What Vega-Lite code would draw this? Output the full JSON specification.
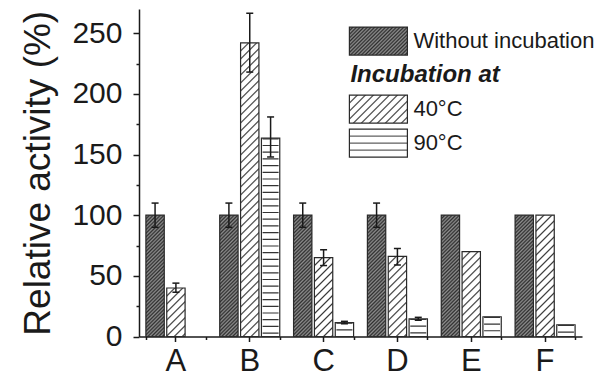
{
  "$schema": "https://vega.github.io/schema/vega-lite/v6.json",
  "width": 443,
  "height": 327.5,
  "autosize": {"type": "none"},
  "padding": {"left": 139, "top": 9, "right": 15, "bottom": 40.5},
  "background": "white",
  "config": {
    "view": {"stroke": null},
    "font": "Liberation Sans",
    "axis": {"grid": false, "domainColor": "#1a1a1a", "tickColor": "#1a1a1a", "labelColor": "#1a1a1a", "titleColor": "#1a1a1a", "domainWidth": 1.5, "tickWidth": 1.5, "labelFont": "Liberation Sans", "titleFont": "Liberation Sans"}
  },
  "params": [
    {"name": "thin", "value": [
      {"offset": 0.02, "color": "#fff"}, {"offset": 0.025, "color": "#333"}, {"offset": 0.03, "color": "#fff"},
      {"offset": 0.045, "color": "#fff"}, {"offset": 0.05, "color": "#333"}, {"offset": 0.055, "color": "#fff"},
      {"offset": 0.07, "color": "#fff"}, {"offset": 0.075, "color": "#333"}, {"offset": 0.08, "color": "#fff"},
      {"offset": 0.095, "color": "#fff"}, {"offset": 0.1, "color": "#333"}, {"offset": 0.105, "color": "#fff"},
      {"offset": 0.12, "color": "#fff"}, {"offset": 0.125, "color": "#333"}, {"offset": 0.13, "color": "#fff"},
      {"offset": 0.145, "color": "#fff"}, {"offset": 0.15, "color": "#333"}, {"offset": 0.155, "color": "#fff"},
      {"offset": 0.17, "color": "#fff"}, {"offset": 0.175, "color": "#333"}, {"offset": 0.18, "color": "#fff"},
      {"offset": 0.195, "color": "#fff"}, {"offset": 0.2, "color": "#333"}, {"offset": 0.205, "color": "#fff"},
      {"offset": 0.22, "color": "#fff"}, {"offset": 0.225, "color": "#333"}, {"offset": 0.23, "color": "#fff"},
      {"offset": 0.245, "color": "#fff"}, {"offset": 0.25, "color": "#333"}, {"offset": 0.255, "color": "#fff"},
      {"offset": 0.27, "color": "#fff"}, {"offset": 0.275, "color": "#333"}, {"offset": 0.28, "color": "#fff"},
      {"offset": 0.295, "color": "#fff"}, {"offset": 0.3, "color": "#333"}, {"offset": 0.305, "color": "#fff"},
      {"offset": 0.32, "color": "#fff"}, {"offset": 0.325, "color": "#333"}, {"offset": 0.33, "color": "#fff"},
      {"offset": 0.345, "color": "#fff"}, {"offset": 0.35, "color": "#333"}, {"offset": 0.355, "color": "#fff"},
      {"offset": 0.37, "color": "#fff"}, {"offset": 0.375, "color": "#333"}, {"offset": 0.38, "color": "#fff"},
      {"offset": 0.395, "color": "#fff"}, {"offset": 0.4, "color": "#333"}, {"offset": 0.405, "color": "#fff"},
      {"offset": 0.42, "color": "#fff"}, {"offset": 0.425, "color": "#333"}, {"offset": 0.43, "color": "#fff"},
      {"offset": 0.445, "color": "#fff"}, {"offset": 0.45, "color": "#333"}, {"offset": 0.455, "color": "#fff"},
      {"offset": 0.47, "color": "#fff"}, {"offset": 0.475, "color": "#333"}, {"offset": 0.48, "color": "#fff"},
      {"offset": 0.495, "color": "#fff"}, {"offset": 0.5, "color": "#333"}, {"offset": 0.505, "color": "#fff"},
      {"offset": 0.52, "color": "#fff"}, {"offset": 0.525, "color": "#333"}, {"offset": 0.53, "color": "#fff"},
      {"offset": 0.545, "color": "#fff"}, {"offset": 0.55, "color": "#333"}, {"offset": 0.555, "color": "#fff"},
      {"offset": 0.57, "color": "#fff"}, {"offset": 0.575, "color": "#333"}, {"offset": 0.58, "color": "#fff"},
      {"offset": 0.595, "color": "#fff"}, {"offset": 0.6, "color": "#333"}, {"offset": 0.605, "color": "#fff"},
      {"offset": 0.62, "color": "#fff"}, {"offset": 0.625, "color": "#333"}, {"offset": 0.63, "color": "#fff"},
      {"offset": 0.645, "color": "#fff"}, {"offset": 0.65, "color": "#333"}, {"offset": 0.655, "color": "#fff"},
      {"offset": 0.67, "color": "#fff"}, {"offset": 0.675, "color": "#333"}, {"offset": 0.68, "color": "#fff"},
      {"offset": 0.695, "color": "#fff"}, {"offset": 0.7, "color": "#333"}, {"offset": 0.705, "color": "#fff"},
      {"offset": 0.72, "color": "#fff"}, {"offset": 0.725, "color": "#333"}, {"offset": 0.73, "color": "#fff"},
      {"offset": 0.745, "color": "#fff"}, {"offset": 0.75, "color": "#333"}, {"offset": 0.755, "color": "#fff"},
      {"offset": 0.77, "color": "#fff"}, {"offset": 0.775, "color": "#333"}, {"offset": 0.78, "color": "#fff"},
      {"offset": 0.795, "color": "#fff"}, {"offset": 0.8, "color": "#333"}, {"offset": 0.805, "color": "#fff"},
      {"offset": 0.82, "color": "#fff"}, {"offset": 0.825, "color": "#333"}, {"offset": 0.83, "color": "#fff"},
      {"offset": 0.845, "color": "#fff"}, {"offset": 0.85, "color": "#333"}, {"offset": 0.855, "color": "#fff"},
      {"offset": 0.87, "color": "#fff"}, {"offset": 0.875, "color": "#333"}, {"offset": 0.88, "color": "#fff"},
      {"offset": 0.895, "color": "#fff"}, {"offset": 0.9, "color": "#333"}, {"offset": 0.905, "color": "#fff"},
      {"offset": 0.92, "color": "#fff"}, {"offset": 0.925, "color": "#333"}, {"offset": 0.93, "color": "#fff"},
      {"offset": 0.945, "color": "#fff"}, {"offset": 0.95, "color": "#333"}, {"offset": 0.955, "color": "#fff"},
      {"offset": 0.97, "color": "#fff"}, {"offset": 0.975, "color": "#333"}, {"offset": 0.98, "color": "#fff"},
      {"offset": 0.995, "color": "#fff"}, {"offset": 1, "color": "#333"}
    ]},
    {"name": "dense", "value": [
      {"offset": 0, "color": "#2f2f2f"}, {"offset": 0.0125, "color": "#8e8e8e"},
      {"offset": 0.025, "color": "#2f2f2f"}, {"offset": 0.0375, "color": "#8e8e8e"},
      {"offset": 0.05, "color": "#2f2f2f"}, {"offset": 0.0625, "color": "#8e8e8e"},
      {"offset": 0.075, "color": "#2f2f2f"}, {"offset": 0.0875, "color": "#8e8e8e"},
      {"offset": 0.1, "color": "#2f2f2f"}, {"offset": 0.1125, "color": "#8e8e8e"},
      {"offset": 0.125, "color": "#2f2f2f"}, {"offset": 0.1375, "color": "#8e8e8e"},
      {"offset": 0.15, "color": "#2f2f2f"}, {"offset": 0.1625, "color": "#8e8e8e"},
      {"offset": 0.175, "color": "#2f2f2f"}, {"offset": 0.1875, "color": "#8e8e8e"},
      {"offset": 0.2, "color": "#2f2f2f"}, {"offset": 0.2125, "color": "#8e8e8e"},
      {"offset": 0.225, "color": "#2f2f2f"}, {"offset": 0.2375, "color": "#8e8e8e"},
      {"offset": 0.25, "color": "#2f2f2f"}, {"offset": 0.2625, "color": "#8e8e8e"},
      {"offset": 0.275, "color": "#2f2f2f"}, {"offset": 0.2875, "color": "#8e8e8e"},
      {"offset": 0.3, "color": "#2f2f2f"}, {"offset": 0.3125, "color": "#8e8e8e"},
      {"offset": 0.325, "color": "#2f2f2f"}, {"offset": 0.3375, "color": "#8e8e8e"},
      {"offset": 0.35, "color": "#2f2f2f"}, {"offset": 0.3625, "color": "#8e8e8e"},
      {"offset": 0.375, "color": "#2f2f2f"}, {"offset": 0.3875, "color": "#8e8e8e"},
      {"offset": 0.4, "color": "#2f2f2f"}, {"offset": 0.4125, "color": "#8e8e8e"},
      {"offset": 0.425, "color": "#2f2f2f"}, {"offset": 0.4375, "color": "#8e8e8e"},
      {"offset": 0.45, "color": "#2f2f2f"}, {"offset": 0.4625, "color": "#8e8e8e"},
      {"offset": 0.475, "color": "#2f2f2f"}, {"offset": 0.4875, "color": "#8e8e8e"},
      {"offset": 0.5, "color": "#2f2f2f"}, {"offset": 0.5125, "color": "#8e8e8e"},
      {"offset": 0.525, "color": "#2f2f2f"}, {"offset": 0.5375, "color": "#8e8e8e"},
      {"offset": 0.55, "color": "#2f2f2f"}, {"offset": 0.5625, "color": "#8e8e8e"},
      {"offset": 0.575, "color": "#2f2f2f"}, {"offset": 0.5875, "color": "#8e8e8e"},
      {"offset": 0.6, "color": "#2f2f2f"}, {"offset": 0.6125, "color": "#8e8e8e"},
      {"offset": 0.625, "color": "#2f2f2f"}, {"offset": 0.6375, "color": "#8e8e8e"},
      {"offset": 0.65, "color": "#2f2f2f"}, {"offset": 0.6625, "color": "#8e8e8e"},
      {"offset": 0.675, "color": "#2f2f2f"}, {"offset": 0.6875, "color": "#8e8e8e"},
      {"offset": 0.7, "color": "#2f2f2f"}, {"offset": 0.7125, "color": "#8e8e8e"},
      {"offset": 0.725, "color": "#2f2f2f"}, {"offset": 0.7375, "color": "#8e8e8e"},
      {"offset": 0.75, "color": "#2f2f2f"}, {"offset": 0.7625, "color": "#8e8e8e"},
      {"offset": 0.775, "color": "#2f2f2f"}, {"offset": 0.7875, "color": "#8e8e8e"},
      {"offset": 0.8, "color": "#2f2f2f"}, {"offset": 0.8125, "color": "#8e8e8e"},
      {"offset": 0.825, "color": "#2f2f2f"}, {"offset": 0.8375, "color": "#8e8e8e"},
      {"offset": 0.85, "color": "#2f2f2f"}, {"offset": 0.8625, "color": "#8e8e8e"},
      {"offset": 0.875, "color": "#2f2f2f"}, {"offset": 0.8875, "color": "#8e8e8e"},
      {"offset": 0.9, "color": "#2f2f2f"}, {"offset": 0.9125, "color": "#8e8e8e"},
      {"offset": 0.925, "color": "#2f2f2f"}, {"offset": 0.9375, "color": "#8e8e8e"},
      {"offset": 0.95, "color": "#2f2f2f"}, {"offset": 0.9625, "color": "#8e8e8e"},
      {"offset": 0.975, "color": "#2f2f2f"}, {"offset": 0.9875, "color": "#8e8e8e"},
      {"offset": 1, "color": "#2f2f2f"}
    ]}
  ],
  "data": {"values": [
    {"group": "A", "series": "Without incubation", "value": 100, "lo": 90, "hi": 110},
    {"group": "A", "series": "40°C", "value": 40, "lo": 36.5, "hi": 44},
    {"group": "B", "series": "Without incubation", "value": 100, "lo": 90, "hi": 110},
    {"group": "B", "series": "40°C", "value": 242, "lo": 218, "hi": 266.5},
    {"group": "B", "series": "90°C", "value": 163.5, "lo": 148, "hi": 181},
    {"group": "C", "series": "Without incubation", "value": 100, "lo": 90, "hi": 110},
    {"group": "C", "series": "40°C", "value": 65, "lo": 58.5, "hi": 71.5},
    {"group": "C", "series": "90°C", "value": 11.5, "lo": 10.5, "hi": 12.5},
    {"group": "D", "series": "Without incubation", "value": 100, "lo": 90, "hi": 110},
    {"group": "D", "series": "40°C", "value": 66, "lo": 59, "hi": 72.5},
    {"group": "D", "series": "90°C", "value": 14.5, "lo": 13.4, "hi": 15.8},
    {"group": "E", "series": "Without incubation", "value": 100},
    {"group": "E", "series": "40°C", "value": 70},
    {"group": "E", "series": "90°C", "value": 16.3},
    {"group": "F", "series": "Without incubation", "value": 100},
    {"group": "F", "series": "40°C", "value": 100},
    {"group": "F", "series": "90°C", "value": 9.7}
  ]},
  "resolve": {"axis": {"x": "independent", "y": "independent"}},
  "layer": [
    {
      "mark": {"type": "bar"},
      "encoding": {
        "x": {"field": "group", "type": "nominal", "scale": {"domain": ["A", "B", "C", "D", "E", "F"], "paddingInner": 0.187, "paddingOuter": 0.0935},
          "axis": {"orient": "bottom", "tickBand": "extent", "labels": false, "tickSize": 3, "title": null, "domain": true}},
        "xOffset": {"field": "series", "type": "nominal", "scale": {"domain": ["Without incubation", "40°C", "90°C"], "paddingInner": 0.12, "paddingOuter": 0}},
        "y": {"field": "value", "type": "quantitative", "stack": null, "scale": {"domain": [0, 270], "nice": false, "zero": true},
          "axis": {"orient": "left", "values": [25, 75, 125, 175, 225], "labels": false, "tickSize": 3, "title": null, "domain": true}},
        "fill": {"field": "series", "type": "nominal",
          "scale": {"domain": ["Without incubation", "Incubation at", "40°C", "90°C"],
            "range": [
              {"expr": "{gradient:'linear',x1:0,y1:0,x2:2.0275,y2:0.9788,stops:dense}"},
              "transparent",
              {"expr": "{gradient:'linear',x1:0,y1:0,x2:4.4745,y2:2.16,stops:thin}"},
              {"expr": "{gradient:'linear',x1:0,y1:0,x2:0,y2:1,stops:[{offset:0.215,color:'#fff'},{offset:0.25,color:'#333'},{offset:0.285,color:'#fff'},{offset:0.465,color:'#fff'},{offset:0.5,color:'#333'},{offset:0.535,color:'#fff'},{offset:0.715,color:'#fff'},{offset:0.75,color:'#333'},{offset:0.785,color:'#fff'}]}"}
            ]},
          "legend": {
            "orient": "none", "legendX": 209.4, "legendY": 17.1, "title": null, "padding": 0,
            "symbolType": "M-1,-1H3.1428V1H-1Z", "symbolSize": 784, "symbolStrokeWidth": 1.2, "symbolStrokeColor": "#2a2a2a",
            "labelFontSize": 22, "labelFont": "Liberation Sans", "labelColor": "#1a1a1a", "labelOffset": 35, "rowPadding": 0, "labelLimit": 400,
            "encoding": {
              "symbols": {
                "stroke": {"value": {"expr": "datum.index === 1 ? 'transparent' : '#2a2a2a'"}}
              },
              "labels": {
                "fontWeight": {"value": {"expr": "datum.index === 1 ? 'bold' : 'normal'"}},
                "fontStyle": {"value": {"expr": "datum.index === 1 ? 'italic' : 'normal'"}},
                "fontSize": {"value": {"expr": "datum.index === 1 ? 24 : 22"}},
                "dx": {"value": {"expr": "datum.index === 1 ? -63 : 0"}}
              }
            }
          }
        }
      }
    },
    {
      "mark": {"type": "bar", "stroke": "#2a2a2a", "strokeWidth": 1.2,
        "fill": {"expr": "datum.series === '40°C' ? {gradient:'linear',x1:0,y1:0,x2:320*bandwidth('xOffset')/(pow(bandwidth('xOffset'),2)+pow(scale('y',0)-scale('y',datum.value),2)),y2:320*(scale('y',0)-scale('y',datum.value))/(pow(bandwidth('xOffset'),2)+pow(scale('y',0)-scale('y',datum.value),2)),stops:thin} : datum.series === 'Without incubation' ? {gradient:'linear',x1:0,y1:0,x2:145*bandwidth('xOffset')/(pow(bandwidth('xOffset'),2)+pow(scale('y',0)-scale('y',datum.value),2)),y2:145*(scale('y',0)-scale('y',datum.value))/(pow(bandwidth('xOffset'),2)+pow(scale('y',0)-scale('y',datum.value),2)),stops:dense} : '#ffffff'"}},
      "encoding": {
        "x": {"field": "group", "type": "nominal", "scale": {"domain": ["A", "B", "C", "D", "E", "F"], "paddingInner": 0.187, "paddingOuter": 0.0935},
          "axis": {"orient": "bottom", "labels": true, "tickSize": 5, "domain": false, "title": null, "labelFontSize": 31, "labelPadding": 5, "labelAngle": 0}},
        "xOffset": {"field": "series", "type": "nominal", "scale": {"domain": ["Without incubation", "40°C", "90°C"], "paddingInner": 0.12, "paddingOuter": 0}},
        "y": {"field": "value", "type": "quantitative", "stack": null, "scale": {"domain": [0, 270], "nice": false, "zero": true},
          "axis": {"orient": "left", "values": [0, 50, 100, 150, 200, 250], "tickSize": 6, "domain": false, "labelFontSize": 30, "labelPadding": 11,
            "title": "Relative activity (%)", "titleFontSize": 37, "titleFontWeight": "normal", "titlePadding": 14}}
      }
    },
    {
      "transform": [{"filter": "datum.series === '90°C'"}],
      "mark": {"type": "rule", "strokeWidth": 16, "strokeDash": [1.2, 5.5], "color": "#333333", "strokeCap": "butt"},
      "encoding": {
        "x": {"field": "group", "type": "nominal", "axis": null},
        "xOffset": {"field": "series", "type": "nominal"},
        "y": {"field": "value", "type": "quantitative", "axis": null},
        "y2": {"datum": 0}
      }
    },
    {
      "transform": [{"filter": "isValid(datum.lo)"}],
      "mark": {"type": "rule", "strokeWidth": 1.5, "color": "#1a1a1a"},
      "encoding": {
        "x": {"field": "group", "type": "nominal", "axis": null},
        "xOffset": {"field": "series", "type": "nominal"},
        "y": {"field": "lo", "type": "quantitative", "axis": null},
        "y2": {"field": "hi"}
      }
    },
    {
      "transform": [{"filter": "isValid(datum.lo)"}],
      "mark": {"type": "tick", "size": 7, "thickness": 1.5, "color": "#1a1a1a", "opacity": 1},
      "encoding": {
        "x": {"field": "group", "type": "nominal", "axis": null},
        "xOffset": {"field": "series", "type": "nominal"},
        "y": {"field": "hi", "type": "quantitative", "axis": null}
      }
    },
    {
      "transform": [{"filter": "isValid(datum.lo)"}],
      "mark": {"type": "tick", "size": 7, "thickness": 1.5, "color": "#1a1a1a", "opacity": 1},
      "encoding": {
        "x": {"field": "group", "type": "nominal", "axis": null},
        "xOffset": {"field": "series", "type": "nominal"},
        "y": {"field": "lo", "type": "quantitative", "axis": null}
      }
    }
  ]
}
